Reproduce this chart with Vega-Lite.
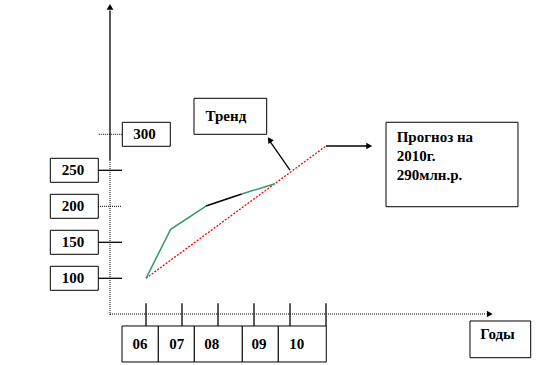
{
  "$schema": "https://vega.github.io/schema/vega-lite/v6.json",
  "width": 556,
  "height": 365,
  "padding": 0,
  "autosize": {"type": "fit", "contains": "padding"},
  "background": "white",
  "config": {
    "view": {"stroke": null},
    "text": {"font": "Liberation Serif", "fontWeight": "bold", "fontSize": 15, "color": "black"}
  },
  "datasets": {
    "boxes": [
      {"name": "y100", "year": 2003.342, "year2": 2004.675, "value": 83.33, "value2": 116.67},
      {"name": "y150", "year": 2003.342, "year2": 2004.675, "value": 133.33, "value2": 166.67},
      {"name": "y200", "year": 2003.342, "year2": 2004.675, "value": 183.33, "value2": 216.67},
      {"name": "y250", "year": 2003.342, "year2": 2004.675, "value": 233.33, "value2": 266.67},
      {"name": "y300", "year": 2005.342, "year2": 2006.675, "value": 283.33, "value2": 316.67},
      {"name": "x06", "year": 2005.333, "year2": 2006.342, "value": -16.25, "value2": 33.75},
      {"name": "x07", "year": 2006.342, "year2": 2007.342, "value": -16.25, "value2": 33.75},
      {"name": "x08", "year": 2007.342, "year2": 2008.675, "value": -16.25, "value2": 33.75},
      {"name": "x09", "year": 2008.675, "year2": 2009.675, "value": -16.25, "value2": 33.75},
      {"name": "x10", "year": 2009.675, "year2": 2011.008, "value": -16.25, "value2": 33.75},
      {"name": "trend", "year": 2007.333, "year2": 2009.352, "value": 300, "value2": 350},
      {"name": "forecast", "year": 2012.667, "year2": 2016.333, "value": 199.4, "value2": 316.7},
      {"name": "years", "year": 2015.0, "year2": 2016.686, "value": -10.3, "value2": 40.7}
    ],
    "solidRules": [
      {"year": 2005.0, "value": 472, "year2": 2005.0, "value2": 264.3},
      {"year": 2004.667, "value": 100, "year2": 2005.333, "value2": 100},
      {"year": 2004.667, "value": 150, "year2": 2005.333, "value2": 150},
      {"year": 2004.667, "value": 250, "year2": 2005.333, "value2": 250},
      {"year": 2006, "value": 65.3, "year2": 2006, "value2": 33.75},
      {"year": 2007, "value": 65.3, "year2": 2007, "value2": 33.75},
      {"year": 2008, "value": 65.3, "year2": 2008, "value2": 33.75},
      {"year": 2009, "value": 65.3, "year2": 2009, "value2": 33.75},
      {"year": 2010, "value": 65.3, "year2": 2010, "value2": 33.75},
      {"year": 2011, "value": 65.3, "year2": 2011, "value2": 33.75},
      {"year": 2010, "value": 250.4, "year2": 2009.42, "value2": 292},
      {"year": 2011, "value": 283.75, "year2": 2012.15, "value2": 283.75}
    ],
    "dottedRules": [
      {"year": 2005.0, "value": 264.3, "year2": 2005.0, "value2": 47.6},
      {"year": 2005.0, "value": 50.4, "year2": 2015.45, "value2": 50.4},
      {"year": 2004.667, "value": 200, "year2": 2005.333, "value2": 200},
      {"year": 2004.69, "value": 300, "year2": 2005.342, "value2": 300}
    ],
    "series": [
      {"segment": "a", "year": 2006.0, "value": 100},
      {"segment": "a", "year": 2006.686, "value": 168.1},
      {"segment": "a", "year": 2007.667, "value": 200.4},
      {"segment": "b", "year": 2007.667, "value": 200.4},
      {"segment": "b", "year": 2008.658, "value": 217.1},
      {"segment": "c", "year": 2008.658, "value": 217.1},
      {"segment": "c", "year": 2009.583, "value": 231.4}
    ],
    "trend": [
      {"year": 2006.0, "value": 100},
      {"year": 2011.0, "value": 283.75}
    ],
    "labels": [
      {"label": "100", "year": 2003.97, "value": 100},
      {"label": "150", "year": 2003.97, "value": 150},
      {"label": "200", "year": 2003.97, "value": 200},
      {"label": "250", "year": 2003.97, "value": 250},
      {"label": "300", "year": 2005.96, "value": 300},
      {"label": "06", "year": 2005.833, "value": 8.75},
      {"label": "07", "year": 2006.853, "value": 8.75},
      {"label": "08", "year": 2007.825, "value": 8.75},
      {"label": "09", "year": 2009.139, "value": 8.75},
      {"label": "10", "year": 2010.186, "value": 8.75},
      {"label": "Тренд", "year": 2008.22, "value": 325},
      {"label": "Годы", "year": 2015.764, "value": 22}
    ],
    "forecastText": [
      {"label": "Прогноз на", "year": 2012.964, "value": 295.8},
      {"label": "2010г.", "year": 2012.964, "value": 269.9},
      {"label": "290млн.р.", "year": 2012.964, "value": 243.1}
    ],
    "arrowUp": [{"year": 2005.0, "value": 477}],
    "arrowRight": [{"year": 2015.55, "value": 50.4}, {"year": 2012.2, "value": 283.75}],
    "arrowTilt": [{"year": 2009.43, "value": 292.5}]
  },
  "encoding": {
    "x": {"field": "year", "type": "quantitative", "axis": null, "scale": {"domain": [2001.9444, 2017.3889], "nice": false, "zero": false}},
    "y": {"field": "value", "type": "quantitative", "axis": null, "scale": {"domain": [-20.42, 486.53], "nice": false, "zero": false}}
  },
  "layer": [
    {
      "data": {"name": "boxes"},
      "mark": {"type": "rect", "fill": "white", "stroke": "black", "strokeWidth": 1},
      "encoding": {"x2": {"field": "year2"}, "y2": {"field": "value2"}}
    },
    {
      "data": {"name": "solidRules"},
      "mark": {"type": "rule", "color": "black", "strokeWidth": 1.3},
      "encoding": {"x2": {"field": "year2"}, "y2": {"field": "value2"}}
    },
    {
      "data": {"name": "dottedRules"},
      "mark": {"type": "rule", "color": "black", "strokeWidth": 1, "strokeDash": [1, 1]},
      "encoding": {"x2": {"field": "year2"}, "y2": {"field": "value2"}}
    },
    {
      "data": {"name": "trend"},
      "mark": {"type": "line", "color": "#ff0000", "strokeWidth": 1.3, "strokeDash": [2, 1.5]},
      "encoding": {}
    },
    {
      "data": {"name": "series"},
      "mark": {"type": "line", "strokeWidth": 1.5},
      "encoding": {
        "color": {"field": "segment", "type": "nominal", "legend": null, "scale": {"domain": ["a", "b", "c"], "range": ["#339966", "#000000", "#339966"]}}
      }
    },
    {
      "data": {"name": "arrowUp"},
      "mark": {"type": "point", "shape": "triangle-up", "filled": true, "color": "black", "size": 45, "opacity": 1}
    },
    {
      "data": {"name": "arrowRight"},
      "mark": {"type": "point", "shape": "triangle-right", "filled": true, "color": "black", "size": 45, "opacity": 1}
    },
    {
      "data": {"name": "arrowTilt"},
      "mark": {"type": "point", "shape": "triangle-up", "angle": 325, "filled": true, "color": "black", "size": 45, "opacity": 1}
    },
    {
      "data": {"name": "labels"},
      "mark": {"type": "text", "align": "center", "baseline": "middle"},
      "encoding": {"text": {"field": "label"}}
    },
    {
      "data": {"name": "forecastText"},
      "mark": {"type": "text", "align": "left", "baseline": "middle"},
      "encoding": {"text": {"field": "label"}}
    }
  ]
}
